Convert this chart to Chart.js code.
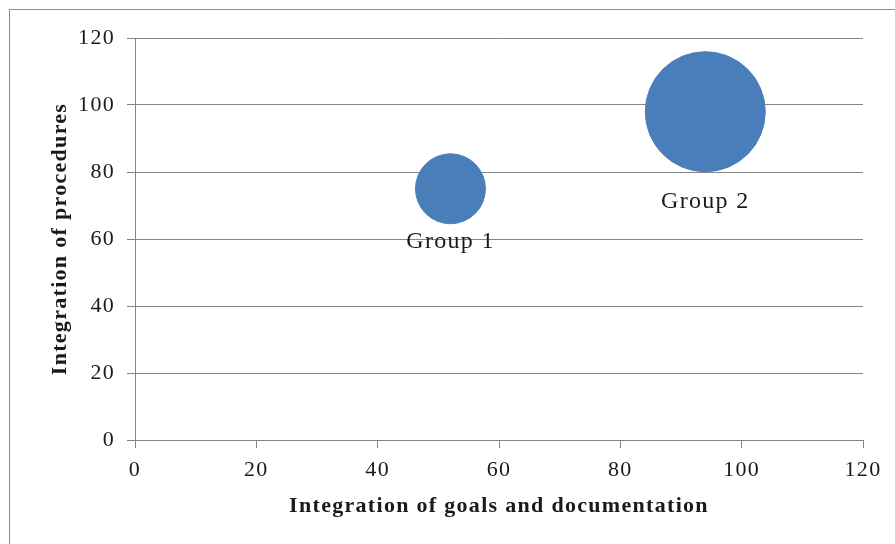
<!DOCTYPE html>
<html>
<head>
<meta charset="utf-8">
<script src="https://cdn.jsdelivr.net/npm/chart.js@4.4.1/dist/chart.umd.min.js"></script>
<style>
  html, body { margin: 0; padding: 0; background: #fff; }
  #wrap { position: relative; width: 895px; height: 544px; overflow: hidden; }
  #frame {
    position: absolute; left: 9px; top: 9px; width: 1000px; height: 1000px;
    border-left: 1px solid #8c8c8c; border-top: 1px solid #8c8c8c;
  }
  canvas { position: absolute; left: 0; top: 0; }
</style>
</head>
<body>
<div id="wrap">
  <div id="frame"></div>
  <canvas id="bubbleChart" width="895" height="544"></canvas>
</div>
<script>
// ----- Data -----
const groups = ["Group 1", "Group 2"];
const goalsDoc = [52, 94];      // x: integration of goals and documentation
const procedures = [75, 98];    // y: integration of procedures
const bubbleSize = [34, 100];   // bubble size (area scaled)
const axisTicks = [0, 20, 40, 60, 80, 100, 120];

// ----- Style -----
const MAX_R = 60;
const GRID = "#868686";
const BLUE = "#4A7EBB";
const SERIF = "'Liberation Serif', 'Times New Roman', serif";
const SPACING = "1.3px";

const maxSize = Math.max(...bubbleSize);
const points = groups.map((g, i) => ({
  x: goalsDoc[i],
  y: procedures[i],
  r: MAX_R * Math.sqrt(bubbleSize[i] / maxSize)
}));

Chart.defaults.font.family = SERIF;
Chart.defaults.color = "#1a1a1a";

// wider text, like the original rendering
const spacingPlugin = {
  id: "spacing",
  beforeLayout(chart) { chart.ctx.letterSpacing = SPACING; },
  beforeDraw(chart) { chart.ctx.letterSpacing = SPACING; }
};

// group names under each bubble
const bubbleLabels = {
  id: "bubbleLabels",
  afterDatasetsDraw(chart) {
    const { ctx } = chart;
    const meta = chart.getDatasetMeta(0);
    ctx.save();
    ctx.font = "24px " + SERIF;
    ctx.fillStyle = "#1a1a1a";
    ctx.textAlign = "center";
    ctx.textBaseline = "middle";
    meta.data.forEach((el, i) => {
      const r = el.options.radius;
      ctx.fillText(groups[i], el.x, el.y + r * 1.5);
    });
    ctx.restore();
  }
};

const chart = new Chart(document.getElementById("bubbleChart"), {
  type: "bubble",
  data: {
    datasets: [{
      label: "Groups",
      data: points,
      backgroundColor: BLUE,
      borderColor: BLUE,
      borderWidth: 1
    }]
  },
  plugins: [spacingPlugin, bubbleLabels],
  options: {
    responsive: false,
    animation: false,
    layout: { autoPadding: false, padding: { left: 0, top: 38, right: 32, bottom: 0 } },
    plugins: { legend: { display: false }, tooltip: { enabled: false } },
    scales: {
      x: {
        type: "linear",
        min: axisTicks[0],
        max: axisTicks[axisTicks.length - 1],
        afterBuildTicks: (s) => { s.ticks = axisTicks.map((v) => ({ value: v })); },
        afterFit: (s) => { s.height = 104; },
        ticks: { font: { size: 22 }, padding: 9, maxRotation: 0 },
        grid: { drawOnChartArea: false, drawTicks: true, tickLength: 8, color: GRID },
        border: { color: GRID, width: 1 },
        title: {
          display: true,
          text: "Integration of goals and documentation",
          font: { size: 22, weight: "bold" },
          padding: { top: 0, bottom: 24 }
        }
      },
      y: {
        type: "linear",
        min: axisTicks[0],
        max: axisTicks[axisTicks.length - 1],
        afterBuildTicks: (s) => { s.ticks = axisTicks.map((v) => ({ value: v })); },
        afterFit: (s) => { s.width = 135; },
        ticks: { font: { size: 22 }, padding: 12 },
        grid: { color: GRID, tickLength: 8 },
        border: { color: GRID, width: 1 },
        title: {
          display: true,
          text: "Integration of procedures",
          font: { size: 22, weight: "bold" },
          padding: { top: 47, bottom: 0 }
        }
      }
    }
  }
});
</script>
</body>
</html>
